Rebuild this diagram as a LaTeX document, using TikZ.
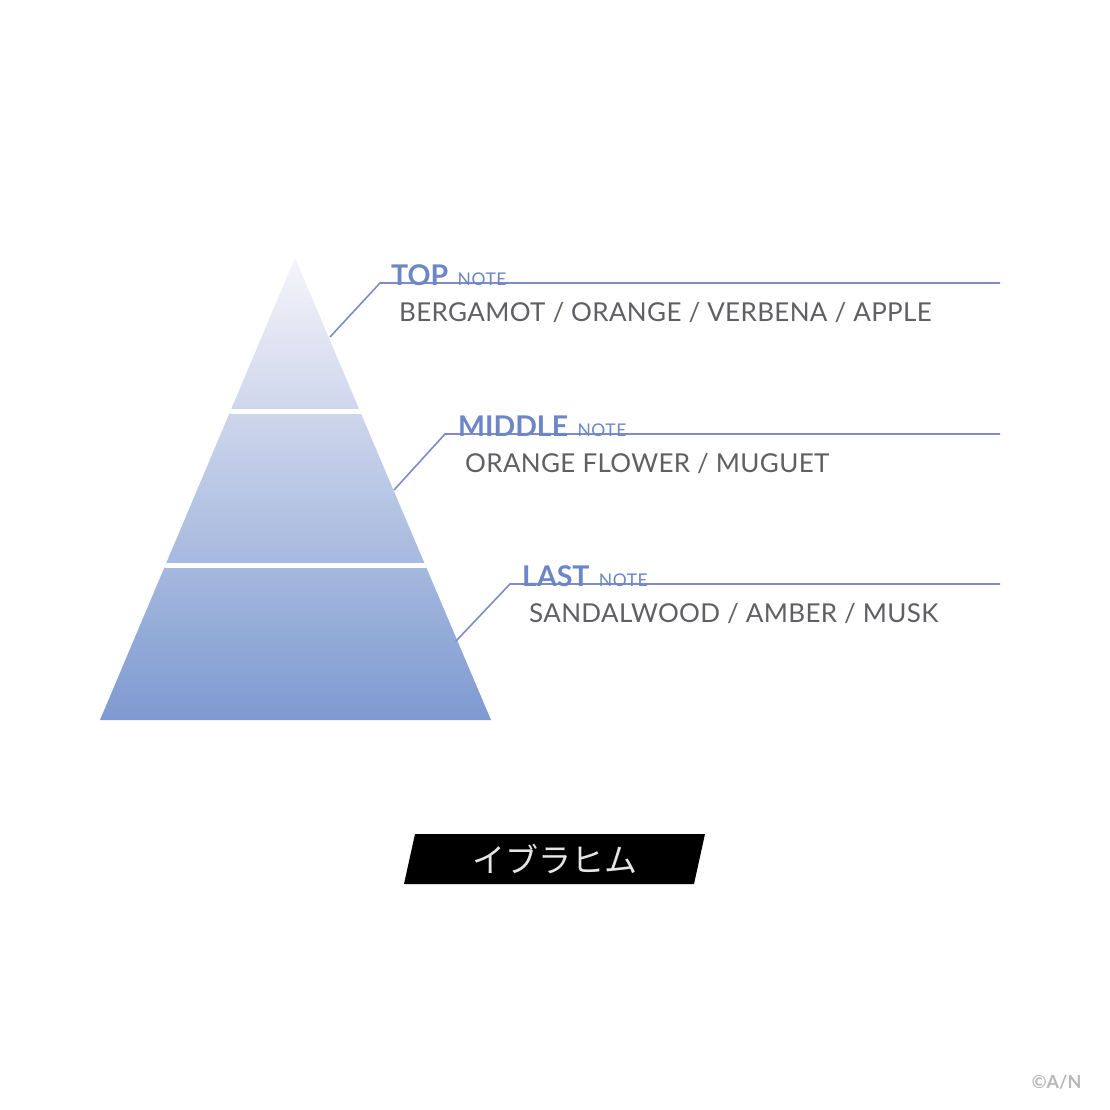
\documentclass[tikz,border=0pt]{standalone}
\usepackage{fontspec}
\setmainfont{Lato}
\newfontfamily\jpfont{Noto Sans CJK JP}
\usepackage{tikz}
\usetikzlibrary{positioning}
\definecolor{noteblue}{RGB}{108,134,200}
\definecolor{linkblue}{RGB}{125,140,200}
\definecolor{listgray}{RGB}{95,95,100}
\definecolor{pyrtop}{RGB}{246,244,250}
\definecolor{pyrbot}{RGB}{125,154,208}

\begin{document}
\begin{tikzpicture}[x=1pt,y=-1pt,
  leader/.style={draw=linkblue,line width=1.6pt},
  notehead/.style={anchor=base west,inner sep=0pt,text=noteblue,font=\fontsize{28.5}{30}\selectfont\bfseries},
  notesub/.style={anchor=base west,inner sep=0pt,text=noteblue,font=\fontsize{17.5}{19}\selectfont\addfontfeature{LetterSpace=3}},
  notelist/.style={anchor=base west,inner sep=0pt,text=listgray,font=\fontsize{26}{28}\selectfont\addfontfeature{LetterSpace=1.3}}]
\useasboundingbox[fill=white] (0,0) rectangle (1110,1110);

% pyramid
\coordinate (apex) at (295,258);
\coordinate (bl) at (100,720);
\coordinate (br) at (491,720);
\begin{scope}
\clip (apex) -- (br) -- (bl) -- cycle;
\shade[top color=pyrtop,bottom color=pyrbot] (100,258) rectangle (491,720);
\fill[white] (90,409) rectangle (500,413.5);
\fill[white] (90,563) rectangle (500,568);
\end{scope}

% top note
\coordinate (topA) at (330,337);
\coordinate (topB) at (380,283);
\coordinate (topC) at (1000,283);
\draw[leader] (topA) -- (topB) -- (topC);
\node[notehead] (topH) at (391,285) {TOP};
\node[notesub,right=9pt of topH.base east,anchor=base west] (topN) {NOTE};
\node[notelist] (topL) at (399,321) {BERGAMOT / ORANGE / VERBENA / APPLE};

% middle note
\coordinate (midA) at (394,490);
\coordinate (midB) at (445,434);
\coordinate (midC) at (1000,434);
\draw[leader] (midA) -- (midB) -- (midC);
\node[notehead] (midH) at (458,436) {MIDDLE};
\node[notesub,right=9pt of midH.base east,anchor=base west] (midN) {NOTE};
\node[notelist] (midL) at (465,472) {ORANGE FLOWER / MUGUET};

% last note
\coordinate (lastA) at (456,641);
\coordinate (lastB) at (510,584);
\coordinate (lastC) at (1000,584);
\draw[leader] (lastA) -- (lastB) -- (lastC);
\node[notehead] (lastH) at (522,586) {LAST};
\node[notesub,right=9pt of lastH.base east,anchor=base west] (lastN) {NOTE};
\node[notelist] (lastL) at (529,622) {SANDALWOOD / AMBER / MUSK};

% name plate
\fill[black] (415,834) -- (705,834) -- (694,884) -- (404,884) -- cycle;
\node[text=white!90!black,font=\jpfont\fontsize{33}{35}\selectfont] (name) at (555,859) {イブラヒム};

\node[text=black!28,font=\fontsize{18}{20}\selectfont\bfseries,anchor=east] (copy) at (1085,1082) {©A/N};
\end{tikzpicture}
\end{document}
